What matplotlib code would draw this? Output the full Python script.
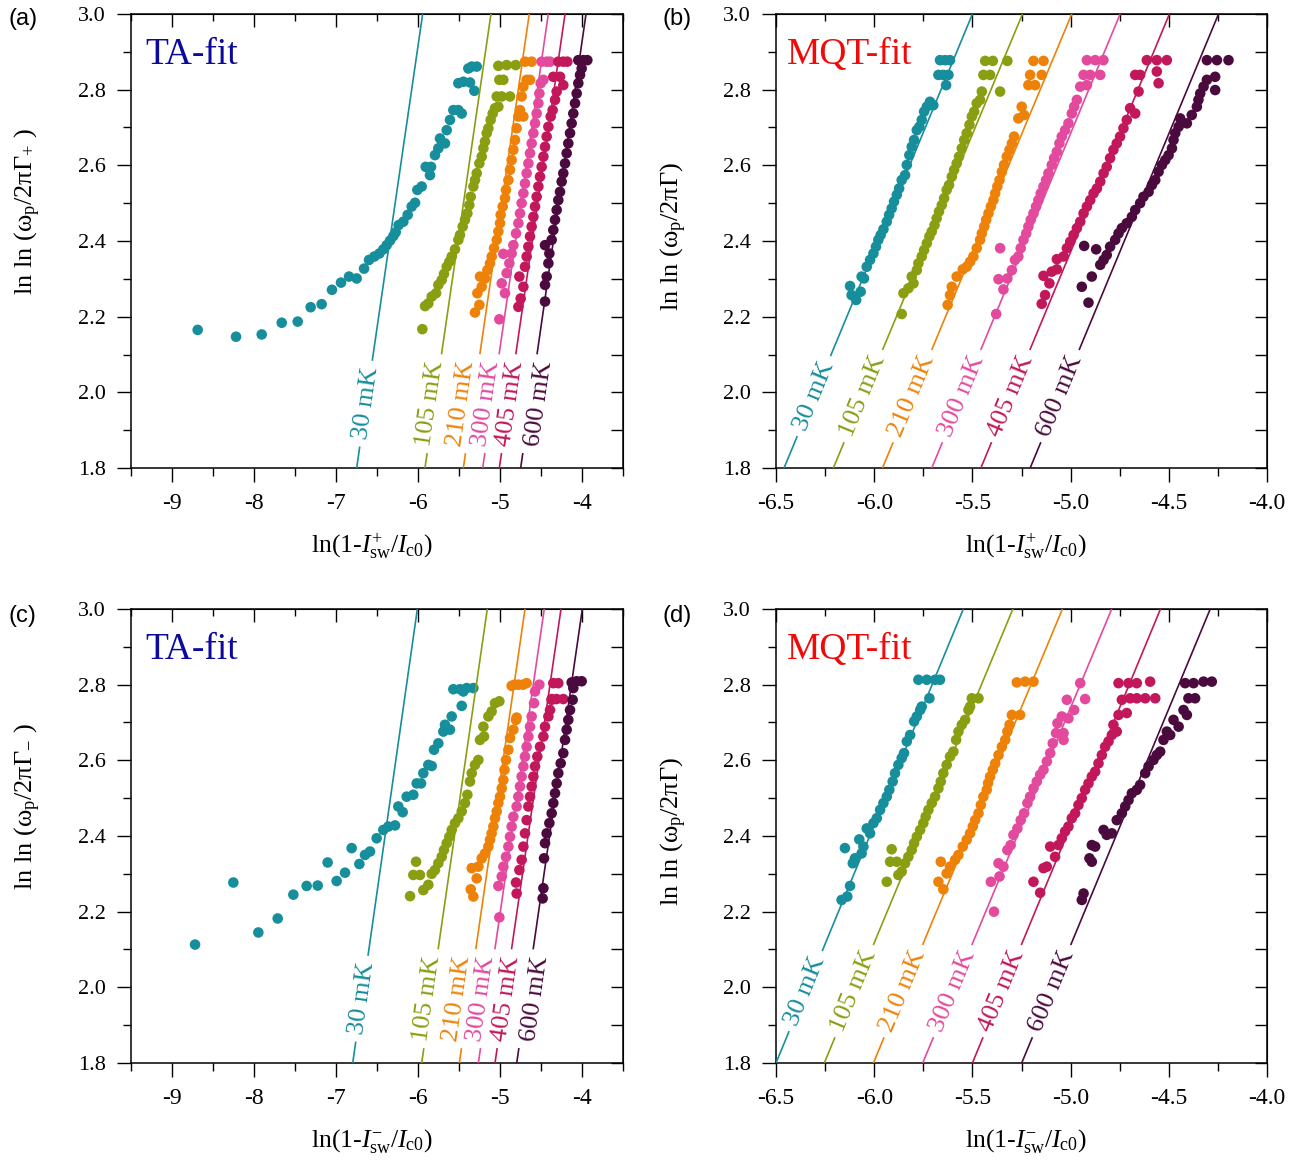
import numpy as np
import matplotlib
matplotlib.use('Agg')
import matplotlib.pyplot as plt
from matplotlib.ticker import MultipleLocator, FormatStrFormatter

plt.rcParams['font.family'] = ['Liberation Serif', 'DejaVu Serif']
plt.rcParams['mathtext.fontset'] = 'custom'
plt.rcParams['mathtext.rm'] = 'Liberation Serif'
plt.rcParams['mathtext.it'] = 'Liberation Serif:italic'
plt.rcParams['mathtext.bf'] = 'Liberation Serif:bold'
plt.rcParams['axes.unicode_minus'] = False

# ---------------- data ----------------
temps = ['30 mK', '105 mK', '210 mK', '300 mK', '405 mK', '600 mK']
colors = ['#168e9b', '#8a9e12', '#ee8209', '#e34a9e', '#c2185b', '#4b0a3e']

# panel (a): TA-fit, I_sw^+
A_30 = [(-8.687, 2.165), (-8.219, 2.147), (-7.906, 2.153), (-7.662, 2.184), (-7.467, 2.187), (-7.309, 2.225),
        (-7.175, 2.233), (-7.049, 2.271), (-6.939, 2.290), (-6.841, 2.306), (-6.748, 2.301), (-6.658, 2.327),
        (-6.597, 2.350), (-6.532, 2.359), (-6.471, 2.367), (-6.423, 2.378), (-6.382, 2.389), (-6.341, 2.401),
        (-6.301, 2.413), (-6.272, 2.423), (-6.236, 2.442), (-6.179, 2.451), (-6.126, 2.469), (-6.077, 2.491),
        (-6.036, 2.501), (-6.008, 2.535), (-5.955, 2.544), (-5.906, 2.596), (-5.841, 2.596), (-5.854, 2.574),
        (-5.793, 2.627), (-5.752, 2.645), (-5.732, 2.671), (-5.671, 2.658), (-5.650, 2.693), (-5.610, 2.720),
        (-5.569, 2.746), (-5.508, 2.746), (-5.467, 2.737), (-5.508, 2.817), (-5.447, 2.821), (-5.366, 2.819),
        (-5.386, 2.856), (-5.345, 2.861), (-5.284, 2.861), (-5.313, 2.797)]
A_105 = [(-5.947, 2.167), (-5.914, 2.228), (-5.874, 2.235), (-5.833, 2.253), (-5.780, 2.262), (-5.752, 2.284),
         (-5.711, 2.297), (-5.683, 2.313), (-5.650, 2.332), (-5.618, 2.345), (-5.589, 2.359), (-5.549, 2.378),
         (-5.508, 2.403), (-5.488, 2.416), (-5.455, 2.438), (-5.427, 2.456), (-5.398, 2.473), (-5.374, 2.495),
         (-5.357, 2.517), (-5.325, 2.544), (-5.305, 2.561), (-5.284, 2.579), (-5.252, 2.605), (-5.223, 2.623),
         (-5.203, 2.645), (-5.183, 2.663), (-5.162, 2.685), (-5.142, 2.698), (-5.114, 2.720), (-5.089, 2.737),
         (-5.061, 2.751), (-5.020, 2.755), (-5.040, 2.782), (-4.979, 2.782), (-4.878, 2.782), (-5.008, 2.826),
         (-4.959, 2.826), (-5.020, 2.863), (-4.919, 2.865), (-4.809, 2.865)]
A_210 = [(-5.305, 2.211), (-5.252, 2.231), (-5.276, 2.262), (-5.223, 2.279), (-5.244, 2.306), (-5.183, 2.301),
         (-5.154, 2.323), (-5.122, 2.341), (-5.101, 2.359), (-5.073, 2.381), (-5.040, 2.403), (-5.020, 2.425),
         (-5.000, 2.447), (-4.992, 2.469), (-4.967, 2.491), (-4.939, 2.513), (-4.927, 2.535), (-4.898, 2.561),
         (-4.878, 2.588), (-4.858, 2.614), (-4.837, 2.641), (-4.817, 2.667), (-4.797, 2.698), (-4.776, 2.729),
         (-4.756, 2.746), (-4.715, 2.729), (-4.736, 2.782), (-4.715, 2.808), (-4.675, 2.826), (-4.634, 2.826),
         (-4.695, 2.874), (-4.614, 2.874)]
A_300 = [(-5.008, 2.193), (-4.959, 2.366), (-4.979, 2.288), (-4.939, 2.262), (-4.919, 2.315), (-4.886, 2.341),
         (-4.858, 2.367), (-4.837, 2.389), (-4.805, 2.420), (-4.776, 2.447), (-4.756, 2.473), (-4.736, 2.500),
         (-4.715, 2.526), (-4.695, 2.552), (-4.675, 2.579), (-4.654, 2.605), (-4.634, 2.632), (-4.614, 2.658),
         (-4.593, 2.685), (-4.573, 2.711), (-4.553, 2.737), (-4.532, 2.764), (-4.520, 2.790), (-4.504, 2.817),
         (-4.471, 2.826), (-4.492, 2.874), (-4.431, 2.874), (-4.390, 2.874)]
A_405 = [(-4.776, 2.226), (-4.748, 2.248), (-4.764, 2.306), (-4.715, 2.279), (-4.695, 2.332), (-4.675, 2.359),
         (-4.654, 2.385), (-4.634, 2.412), (-4.614, 2.438), (-4.593, 2.464), (-4.573, 2.491), (-4.553, 2.517),
         (-4.532, 2.544), (-4.512, 2.570), (-4.492, 2.596), (-4.471, 2.623), (-4.451, 2.649), (-4.431, 2.676),
         (-4.410, 2.702), (-4.382, 2.729), (-4.358, 2.746), (-4.329, 2.773), (-4.309, 2.795), (-4.268, 2.834),
         (-4.228, 2.812), (-4.350, 2.834), (-4.289, 2.874), (-4.228, 2.874), (-4.179, 2.874)]
A_600 = [(-4.451, 2.240), (-4.451, 2.284), (-4.431, 2.306), (-4.410, 2.341), (-4.398, 2.367), (-4.451, 2.389),
         (-4.370, 2.403), (-4.350, 2.429), (-4.329, 2.456), (-4.309, 2.482), (-4.289, 2.508), (-4.268, 2.530),
         (-4.248, 2.557), (-4.228, 2.579), (-4.207, 2.605), (-4.187, 2.632), (-4.167, 2.658), (-4.146, 2.685),
         (-4.126, 2.711), (-4.106, 2.737), (-4.085, 2.764), (-4.065, 2.790), (-4.045, 2.817), (-4.024, 2.839),
         (-4.004, 2.856), (-4.045, 2.878), (-3.984, 2.878), (-3.935, 2.878)]

# panel (b): MQT-fit, I_sw^+
B_30 = [(-6.092, 2.244), (-6.115, 2.257), (-6.069, 2.266), (-6.123, 2.281), (-6.052, 2.301), (-6.064, 2.306),
        (-6.038, 2.332), (-6.021, 2.350), (-6.004, 2.367), (-5.991, 2.385), (-5.979, 2.403), (-5.967, 2.416),
        (-5.953, 2.431), (-5.936, 2.451), (-5.924, 2.469), (-5.911, 2.486), (-5.899, 2.504), (-5.885, 2.522),
        (-5.873, 2.539), (-5.860, 2.561), (-5.843, 2.574), (-5.834, 2.601), (-5.821, 2.627), (-5.809, 2.649),
        (-5.797, 2.667), (-5.783, 2.693), (-5.770, 2.702), (-5.758, 2.720), (-5.746, 2.742), (-5.732, 2.755),
        (-5.716, 2.768), (-5.699, 2.759), (-5.634, 2.812), (-5.673, 2.839), (-5.648, 2.839), (-5.622, 2.839),
        (-5.665, 2.878), (-5.639, 2.878), (-5.614, 2.878)]
B_105 = [(-5.860, 2.207), (-5.851, 2.262), (-5.826, 2.275), (-5.800, 2.288), (-5.809, 2.306), (-5.783, 2.323),
         (-5.775, 2.341), (-5.758, 2.359), (-5.746, 2.376), (-5.732, 2.394), (-5.719, 2.412), (-5.707, 2.425),
         (-5.693, 2.442), (-5.682, 2.460), (-5.670, 2.478), (-5.656, 2.495), (-5.644, 2.513), (-5.631, 2.535),
         (-5.619, 2.548), (-5.605, 2.570), (-5.593, 2.588), (-5.580, 2.605), (-5.568, 2.623), (-5.554, 2.645),
         (-5.542, 2.667), (-5.529, 2.685), (-5.515, 2.707), (-5.503, 2.729), (-5.491, 2.742), (-5.478, 2.764),
         (-5.461, 2.773), (-5.452, 2.795), (-5.359, 2.795), (-5.444, 2.839), (-5.410, 2.839), (-5.435, 2.876),
         (-5.396, 2.876), (-5.322, 2.876)]
B_210 = [(-5.626, 2.231), (-5.614, 2.257), (-5.605, 2.279), (-5.580, 2.306), (-5.549, 2.325), (-5.529, 2.332),
         (-5.512, 2.345), (-5.495, 2.359), (-5.478, 2.381), (-5.461, 2.403), (-5.452, 2.420), (-5.440, 2.438),
         (-5.430, 2.456), (-5.418, 2.473), (-5.406, 2.491), (-5.393, 2.508), (-5.384, 2.526), (-5.373, 2.544),
         (-5.362, 2.561), (-5.350, 2.583), (-5.339, 2.601), (-5.325, 2.623), (-5.311, 2.641), (-5.299, 2.658),
         (-5.288, 2.676), (-5.266, 2.724), (-5.237, 2.733), (-5.249, 2.755), (-5.215, 2.812), (-5.181, 2.812),
         (-5.206, 2.839), (-5.147, 2.839), (-5.189, 2.876), (-5.138, 2.876)]
B_300 = [(-5.379, 2.207), (-5.359, 2.381), (-5.367, 2.299), (-5.342, 2.272), (-5.322, 2.301), (-5.299, 2.323),
         (-5.283, 2.350), (-5.266, 2.359), (-5.254, 2.381), (-5.240, 2.403), (-5.226, 2.420), (-5.215, 2.438),
         (-5.203, 2.456), (-5.189, 2.473), (-5.176, 2.491), (-5.164, 2.508), (-5.152, 2.526), (-5.138, 2.544),
         (-5.125, 2.561), (-5.113, 2.579), (-5.096, 2.601), (-5.084, 2.619), (-5.070, 2.636), (-5.057, 2.658),
         (-5.045, 2.676), (-5.028, 2.693), (-5.011, 2.711), (-4.994, 2.737), (-4.982, 2.755), (-4.968, 2.773),
         (-4.951, 2.808), (-4.917, 2.812), (-4.934, 2.839), (-4.900, 2.839), (-4.917, 2.878), (-4.875, 2.878),
         (-4.833, 2.878), (-4.849, 2.839)]
B_405 = [(-5.147, 2.234), (-5.130, 2.257), (-5.138, 2.308), (-5.108, 2.288), (-5.096, 2.319), (-5.070, 2.325),
         (-5.070, 2.352), (-5.036, 2.359), (-5.019, 2.381), (-5.002, 2.398), (-4.985, 2.416), (-4.968, 2.434),
         (-4.951, 2.451), (-4.934, 2.473), (-4.917, 2.491), (-4.900, 2.508), (-4.883, 2.526), (-4.866, 2.539),
         (-4.849, 2.557), (-4.832, 2.579), (-4.816, 2.596), (-4.799, 2.619), (-4.782, 2.641), (-4.765, 2.658),
         (-4.748, 2.676), (-4.731, 2.698), (-4.714, 2.720), (-4.697, 2.751), (-4.671, 2.737), (-4.654, 2.795),
         (-4.646, 2.839), (-4.671, 2.839), (-4.561, 2.848), (-4.552, 2.817), (-4.612, 2.878), (-4.561, 2.878),
         (-4.510, 2.878)]
B_600 = [(-4.909, 2.237), (-4.943, 2.279), (-4.892, 2.306), (-4.931, 2.387), (-4.870, 2.378), (-4.849, 2.337),
         (-4.832, 2.350), (-4.816, 2.363), (-4.799, 2.385), (-4.773, 2.403), (-4.756, 2.420), (-4.739, 2.434),
         (-4.714, 2.447), (-4.688, 2.464), (-4.671, 2.482), (-4.646, 2.500), (-4.629, 2.517), (-4.603, 2.530),
         (-4.586, 2.548), (-4.569, 2.561), (-4.552, 2.583), (-4.535, 2.601), (-4.518, 2.614), (-4.501, 2.627),
         (-4.484, 2.645), (-4.476, 2.667), (-4.467, 2.685), (-4.450, 2.702), (-4.442, 2.724), (-4.408, 2.711),
         (-4.383, 2.733), (-4.357, 2.755), (-4.349, 2.773), (-4.340, 2.790), (-4.323, 2.808), (-4.306, 2.826),
         (-4.264, 2.799), (-4.264, 2.834), (-4.306, 2.878), (-4.255, 2.878), (-4.196, 2.878)]

# panel (c): TA-fit, I_sw^-
C_30 = [(-8.719, 2.113), (-8.252, 2.277), (-7.947, 2.145), (-7.711, 2.182), (-7.520, 2.245), (-7.358, 2.268),
        (-7.223, 2.269), (-7.102, 2.330), (-6.992, 2.281), (-6.890, 2.303), (-6.809, 2.368), (-6.715, 2.326),
        (-6.646, 2.350), (-6.585, 2.359), (-6.504, 2.394), (-6.423, 2.416), (-6.362, 2.425), (-6.280, 2.428),
        (-6.240, 2.478), (-6.187, 2.463), (-6.138, 2.504), (-6.057, 2.509), (-6.016, 2.539), (-5.963, 2.539),
        (-5.935, 2.566), (-5.874, 2.588), (-5.833, 2.585), (-5.805, 2.628), (-5.752, 2.645), (-5.691, 2.676),
        (-5.671, 2.694), (-5.589, 2.716), (-5.610, 2.681), (-5.467, 2.744), (-5.569, 2.788), (-5.488, 2.788),
        (-5.406, 2.791), (-5.325, 2.791), (-5.447, 2.782)]
C_105 = [(-6.097, 2.241), (-6.057, 2.297), (-6.024, 2.332), (-5.976, 2.297), (-5.935, 2.257), (-5.874, 2.271),
         (-5.833, 2.300), (-5.793, 2.310), (-5.752, 2.328), (-5.711, 2.345), (-5.683, 2.363), (-5.650, 2.381),
         (-5.618, 2.398), (-5.589, 2.416), (-5.549, 2.434), (-5.508, 2.447), (-5.467, 2.465), (-5.427, 2.487),
         (-5.398, 2.509), (-5.366, 2.544), (-5.345, 2.566), (-5.305, 2.588), (-5.264, 2.601), (-5.244, 2.654),
         (-5.195, 2.663), (-5.203, 2.689), (-5.142, 2.716), (-5.102, 2.729), (-5.061, 2.751), (-5.008, 2.756)]
C_210 = [(-5.325, 2.240), (-5.357, 2.259), (-5.284, 2.288), (-5.345, 2.315), (-5.264, 2.319), (-5.223, 2.341),
         (-5.183, 2.354), (-5.142, 2.372), (-5.122, 2.390), (-5.102, 2.407), (-5.081, 2.425), (-5.061, 2.447),
         (-5.040, 2.465), (-5.020, 2.487), (-5.000, 2.504), (-4.979, 2.526), (-4.959, 2.548), (-4.945, 2.575),
         (-4.927, 2.601), (-4.898, 2.628), (-4.878, 2.659), (-4.837, 2.681), (-4.805, 2.707), (-4.797, 2.713),
         (-4.858, 2.797), (-4.820, 2.800), (-4.776, 2.800), (-4.720, 2.800), (-4.675, 2.804)]
C_300 = [(-5.008, 2.185), (-5.020, 2.268), (-4.979, 2.293), (-4.959, 2.319), (-4.927, 2.345), (-4.898, 2.372),
         (-4.878, 2.398), (-4.858, 2.425), (-4.837, 2.451), (-4.797, 2.478), (-4.776, 2.504), (-4.756, 2.531),
         (-4.736, 2.557), (-4.715, 2.584), (-4.695, 2.610), (-4.675, 2.636), (-4.654, 2.663), (-4.634, 2.689),
         (-4.614, 2.716), (-4.585, 2.751), (-4.520, 2.800), (-4.573, 2.782)]
C_405 = [(-4.797, 2.248), (-4.805, 2.277), (-4.764, 2.310), (-4.736, 2.337), (-4.715, 2.372), (-4.695, 2.407),
         (-4.675, 2.442), (-4.654, 2.478), (-4.634, 2.504), (-4.614, 2.531), (-4.593, 2.557), (-4.573, 2.584),
         (-4.545, 2.610), (-4.512, 2.636), (-4.471, 2.663), (-4.451, 2.689), (-4.410, 2.716), (-4.390, 2.733),
         (-4.370, 2.760), (-4.350, 2.804), (-4.289, 2.804), (-4.228, 2.762), (-4.370, 2.762), (-4.309, 2.762)]
C_600 = [(-4.480, 2.235), (-4.471, 2.262), (-4.463, 2.341), (-4.451, 2.381), (-4.431, 2.407), (-4.398, 2.434),
         (-4.370, 2.460), (-4.350, 2.487), (-4.329, 2.513), (-4.309, 2.539), (-4.289, 2.566), (-4.260, 2.592),
         (-4.228, 2.619), (-4.207, 2.654), (-4.187, 2.681), (-4.167, 2.707), (-4.146, 2.733), (-4.114, 2.760),
         (-4.106, 2.791), (-4.126, 2.806), (-4.065, 2.809), (-4.004, 2.809)]

# panel (d): MQT-fit, I_sw^-
D_30 = [(-6.149, 2.368), (-6.166, 2.231), (-6.137, 2.240), (-6.123, 2.268), (-6.109, 2.328), (-6.098, 2.341),
        (-6.076, 2.391), (-6.064, 2.354), (-6.055, 2.372), (-6.038, 2.420), (-6.021, 2.407), (-6.004, 2.434),
        (-5.987, 2.447), (-5.970, 2.469), (-5.953, 2.487), (-5.936, 2.504), (-5.923, 2.522), (-5.906, 2.544),
        (-5.894, 2.566), (-5.877, 2.588), (-5.860, 2.606), (-5.848, 2.619), (-5.834, 2.650), (-5.817, 2.667),
        (-5.797, 2.703), (-5.783, 2.716), (-5.766, 2.733), (-5.758, 2.742), (-5.719, 2.764), (-5.775, 2.813),
        (-5.732, 2.813), (-5.690, 2.813), (-5.665, 2.813)]
D_105 = [(-5.936, 2.279), (-5.911, 2.365), (-5.919, 2.332), (-5.885, 2.332), (-5.877, 2.297), (-5.860, 2.306),
         (-5.843, 2.328), (-5.826, 2.345), (-5.809, 2.363), (-5.797, 2.381), (-5.783, 2.398), (-5.766, 2.416),
         (-5.750, 2.434), (-5.738, 2.451), (-5.724, 2.469), (-5.707, 2.487), (-5.690, 2.504), (-5.673, 2.526),
         (-5.661, 2.544), (-5.648, 2.566), (-5.631, 2.588), (-5.614, 2.610), (-5.597, 2.623), (-5.583, 2.654),
         (-5.571, 2.676), (-5.554, 2.694), (-5.537, 2.707), (-5.520, 2.733), (-5.512, 2.742), (-5.503, 2.764),
         (-5.469, 2.764)]
D_210 = [(-5.648, 2.259), (-5.673, 2.279), (-5.661, 2.332), (-5.631, 2.301), (-5.614, 2.319), (-5.588, 2.337),
         (-5.571, 2.350), (-5.549, 2.372), (-5.529, 2.390), (-5.512, 2.407), (-5.498, 2.425), (-5.486, 2.442),
         (-5.469, 2.460), (-5.457, 2.482), (-5.444, 2.504), (-5.427, 2.522), (-5.420, 2.540), (-5.410, 2.557),
         (-5.396, 2.575), (-5.384, 2.592), (-5.367, 2.614), (-5.350, 2.636), (-5.333, 2.654), (-5.322, 2.676),
         (-5.311, 2.694), (-5.299, 2.720), (-5.257, 2.720), (-5.274, 2.806), (-5.232, 2.808), (-5.189, 2.808)]
D_300 = [(-5.390, 2.200), (-5.406, 2.279), (-5.362, 2.293), (-5.367, 2.328), (-5.342, 2.319), (-5.322, 2.363),
         (-5.305, 2.376), (-5.291, 2.403), (-5.271, 2.420), (-5.254, 2.442), (-5.237, 2.460), (-5.220, 2.487),
         (-5.206, 2.504), (-5.189, 2.526), (-5.172, 2.544), (-5.155, 2.562), (-5.138, 2.575), (-5.121, 2.597),
         (-5.104, 2.619), (-5.091, 2.645), (-5.074, 2.672), (-5.067, 2.698), (-5.045, 2.716), (-5.036, 2.672),
         (-5.036, 2.654), (-5.011, 2.711), (-5.019, 2.760), (-4.982, 2.733), (-4.926, 2.762), (-4.951, 2.804)]
D_405 = [(-5.155, 2.250), (-5.189, 2.279), (-5.138, 2.315), (-5.121, 2.319), (-5.079, 2.345), (-5.104, 2.372),
         (-5.062, 2.376), (-5.045, 2.394), (-5.028, 2.412), (-5.011, 2.425), (-4.994, 2.447), (-4.977, 2.460),
         (-4.960, 2.482), (-4.943, 2.500), (-4.926, 2.522), (-4.909, 2.539), (-4.892, 2.557), (-4.875, 2.570),
         (-4.858, 2.592), (-4.841, 2.614), (-4.824, 2.636), (-4.807, 2.650), (-4.790, 2.667), (-4.782, 2.694),
         (-4.765, 2.676), (-4.756, 2.720), (-4.739, 2.760), (-4.714, 2.725), (-4.697, 2.764), (-4.663, 2.764),
         (-4.620, 2.764), (-4.569, 2.764), (-4.756, 2.804), (-4.705, 2.804), (-4.663, 2.804), (-4.595, 2.808)]
D_600 = [(-4.943, 2.231), (-4.934, 2.248), (-4.892, 2.332), (-4.904, 2.341), (-4.892, 2.376), (-4.875, 2.372),
         (-4.832, 2.416), (-4.816, 2.403), (-4.790, 2.407), (-4.765, 2.442), (-4.739, 2.460), (-4.722, 2.478),
         (-4.705, 2.495), (-4.688, 2.513), (-4.663, 2.522), (-4.646, 2.535), (-4.620, 2.566), (-4.603, 2.584),
         (-4.578, 2.601), (-4.561, 2.614), (-4.544, 2.623), (-4.527, 2.654), (-4.510, 2.676), (-4.493, 2.667),
         (-4.476, 2.707), (-4.450, 2.689), (-4.425, 2.733), (-4.400, 2.764), (-4.366, 2.764), (-4.417, 2.804),
         (-4.374, 2.804), (-4.323, 2.808), (-4.281, 2.808), (-4.408, 2.720)]

# fit lines: x where the fit crosses lnln = 1.8, and slope d(lnln)/dx
A_fit_x0 = [-6.748, -5.915, -5.447, -5.211, -5.008, -4.748]
A_fit_slope = [1.491, 1.491, 1.493, 1.500, 1.498, 1.506]
B_fit_x0 = [-6.459, -6.208, -5.958, -5.707, -5.457, -5.206]
B_fit_slope = [1.251, 1.246, 1.245, 1.251, 1.250, 1.251]
C_fit_x0 = [-6.796, -5.955, -5.496, -5.264, -5.061, -4.796]
C_fit_slope = [1.523, 1.500, 1.498, 1.493, 1.491, 1.500]
D_fit_x0 = [-6.500, -6.254, -6.004, -5.753, -5.500, -5.249]
D_fit_slope = [1.258, 1.250, 1.247, 1.247, 1.253, 1.250]

# ---------------- figure ----------------
W, H = 1316, 1174
fig = plt.figure(figsize=(W / 100, H / 100), dpi=100)


def px_rect(l, t, r, b):
    return [l / W, 1 - b / H, (r - l) / W, (b - t) / H]


axA = fig.add_axes(px_rect(131, 14, 623, 468))
axB = fig.add_axes(px_rect(776, 14, 1267, 468))
axC = fig.add_axes(px_rect(131, 609, 623, 1063))
axD = fig.add_axes(px_rect(776, 609, 1267, 1063))

renderer = fig.canvas.get_renderer()

panels = [
    (axA, [A_30, A_105, A_210, A_300, A_405, A_600], A_fit_x0, A_fit_slope, 'TA', '+'),
    (axB, [B_30, B_105, B_210, B_300, B_405, B_600], B_fit_x0, B_fit_slope, 'MQT', '+'),
    (axC, [C_30, C_105, C_210, C_300, C_405, C_600], C_fit_x0, C_fit_slope, 'TA', '-'),
    (axD, [D_30, D_105, D_210, D_300, D_405, D_600], D_fit_x0, D_fit_slope, 'MQT', '-'),
]

# horizontal nudges (pixels) of the in-line labels so that they do not collide
ta_nudge = [0, -4, -11, -6, 2, 9]
mqt_nudge = [0, 0, 0, 0, 0, 0]

for ax, series, x0s, slopes, kind, sign in panels:
    ta = kind == 'TA'
    if ta:
        ax.set_xlim(-9.5, -3.5)
        ax.xaxis.set_major_locator(MultipleLocator(1))
        ax.xaxis.set_minor_locator(MultipleLocator(0.5))
        ax.xaxis.set_major_formatter(FormatStrFormatter('%d'))
    else:
        ax.set_xlim(-6.5, -4.0)
        ax.xaxis.set_major_locator(MultipleLocator(0.5))
        ax.xaxis.set_minor_locator(MultipleLocator(0.25))
        ax.xaxis.set_major_formatter(FormatStrFormatter('%.1f'))
    ax.set_ylim(1.8, 3.0)
    ax.yaxis.set_major_locator(MultipleLocator(0.2))
    ax.yaxis.set_minor_locator(MultipleLocator(0.1))
    ax.yaxis.set_major_formatter(FormatStrFormatter('%.1f'))
    for s in ax.spines.values():
        s.set_linewidth(1.1)
    ax.tick_params(which='both', direction='out', width=1.0, top=False, right=False,
                   labelfontfamily='Liberation Serif')
    ax.tick_params(which='major', length=10)
    ax.tick_params(which='minor', length=5.5)
    ax.tick_params(axis='x', which='major', pad=8, labelsize=17)
    ax.tick_params(axis='y', which='major', pad=8, labelsize=16)

    # inward ticks on top and right
    sx = ax.secondary_xaxis('top')
    sx.xaxis.set_major_locator(ax.xaxis.get_major_locator())
    sx.xaxis.set_minor_locator(ax.xaxis.get_minor_locator())
    sx.tick_params(which='both', direction='in', labeltop=False, width=1.0)
    sx.tick_params(which='major', length=9)
    sx.tick_params(which='minor', length=5)
    sy = ax.secondary_yaxis('right')
    sy.yaxis.set_major_locator(MultipleLocator(0.2))
    sy.yaxis.set_minor_locator(MultipleLocator(0.1))
    sy.tick_params(which='both', direction='in', labelright=False, width=1.0)
    sy.tick_params(which='major', length=9)
    sy.tick_params(which='minor', length=9)

    # data points
    for pts, c in zip(series, colors):
        arr = np.array(pts)
        ax.scatter(arr[:, 0], arr[:, 1], s=58, color=c, edgecolors='none', zorder=2)

    # fit lines with in-line labels
    ycen = 1.97 if ta else 1.99
    nudges = ta_nudge if ta else mqt_nudge
    inv = ax.transData.inverted()
    for x0, k, lab, c, nd in zip(x0s, slopes, temps, colors, nudges):
        ya, yb = 1.8, 3.0
        xa, xb = x0 + (ya - 1.8) / k, x0 + (yb - 1.8) / k
        p0 = ax.transData.transform((xa, ya))
        p1 = ax.transData.transform((xb, yb))
        d = p1 - p0
        u = d / np.hypot(*d)
        ang = np.degrees(np.arctan2(d[1], d[0]))
        xc = x0 + (ycen - 1.8) / k
        pc = ax.transData.transform((xc, ycen))
        tpos = inv.transform(pc + np.array([nd, 0.0]))
        t = ax.text(tpos[0], tpos[1], lab, rotation=0, rotation_mode='anchor', ha='center', va='center',
                    color=c, fontsize=19, zorder=4)
        wtxt = t.get_window_extent(renderer).width
        t.set_rotation(ang)
        half = wtxt / 2 + 7
        q0 = inv.transform(pc - u * half)
        q1 = inv.transform(pc + u * half)
        ax.plot([xa, q0[0]], [ya, q0[1]], color=c, lw=1.2, zorder=3, solid_capstyle='butt')
        ax.plot([q1[0], xb], [q1[1], yb], color=c, lw=1.2, zorder=3, solid_capstyle='butt')

    # axis labels and fit tags
    ax.set_xlabel(r'ln(1-$I_{\mathrm{sw}}^{' + ('+' if sign == '+' else '-') + r'}$/$I_{\mathrm{c0}}$)',
                  fontsize=18.5)
    ax.xaxis.set_label_coords(0.49 if ta else 0.51, -0.14)
    ax.xaxis.label.set_va('top')
    if ta:
        sub = '+' if sign == '+' else '-'
        ylab = r'ln ln ($\mathregular{\omega_p/2\pi\Gamma_{' + sub + r'}}$ )'
        ax.set_ylabel(ylab, fontsize=19)
        ax.yaxis.set_label_coords(-0.178, 0.564)
        ax.text(0.03, 0.89, 'TA-fit', transform=ax.transAxes, fontsize=27, color='#0a0a9c',
                ha='left', va='baseline')
    else:
        ax.set_ylabel(r'ln ln ($\mathregular{\omega_p/2\pi\Gamma}$)', fontsize=19)
        ax.yaxis.set_label_coords(-0.178, 0.51)
        ax.text(0.022, 0.89, 'MQT-fit', transform=ax.transAxes, fontsize=27, color='#f00a0a',
                ha='left', va='baseline')

# panel letters
for lx, ly, letter in [(8, 8, '(a)'), (662, 8, '(b)'), (8, 605, '(c)'), (662, 605, '(d)')]:
    fig.text(lx / W, 1 - ly / H, letter, fontsize=17, family=['Liberation Sans', 'DejaVu Sans'],
             ha='left', va='top')

fig.savefig('out.png', dpi=100)
